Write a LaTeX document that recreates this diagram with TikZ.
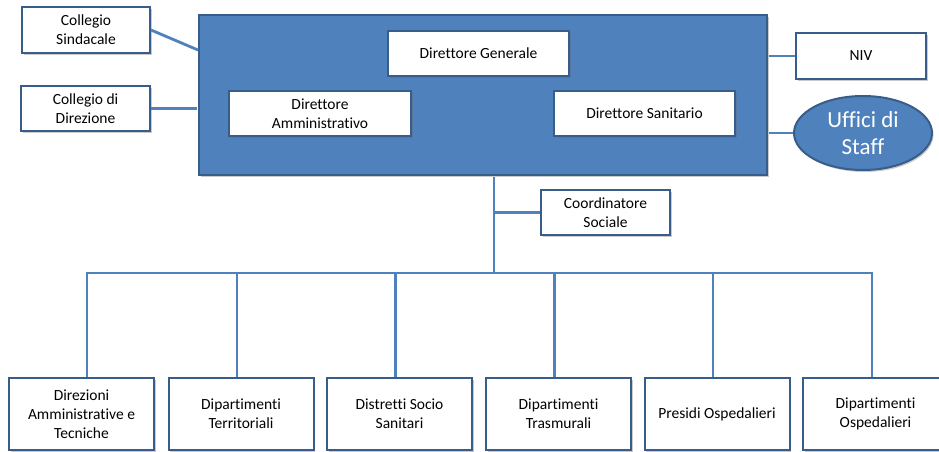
\documentclass[tikz,border=0pt]{standalone}
\usepackage{fontspec}
\setmainfont{Carlito}[Ligatures=NoCommon]
\usetikzlibrary{shadows,shapes.geometric,calc}
\definecolor{ofblue}{HTML}{4F81BD}
\definecolor{ofdark}{HTML}{385D8A}
\begin{document}
\begin{tikzpicture}[x=1pt,y=-1pt,
  shad/.style={drop shadow={shadow xshift=1.5pt,shadow yshift=-2pt,opacity=0.35,fill=black!60}},
  wbox/.style={draw=ofdark,line width=2pt,fill=white,align=center,inner sep=0pt,
    font=\fontsize{15.5}{19}\selectfont,shad},
  conn/.style={draw=ofblue,line width=2.8pt,line join=miter}]
\useasboundingbox (0,0) rectangle (939,452);
% main box
\node[draw=ofdark,line width=2pt,fill=ofblue,minimum width=568pt,minimum height=160pt,inner sep=0pt,shad] (big) at (483,95) {};
\node[wbox,minimum width=181pt,minimum height=45pt] (dg) at (478.5,53.5) {Direttore Generale};
\node[wbox,minimum width=182pt,minimum height=45pt] (da) at (320,113.5) {Direttore\\Amministrativo};
\node[wbox,minimum width=181pt,minimum height=45pt] (ds) at (644.5,113.5) {Direttore Sanitario};
% side boxes
\node[wbox,minimum width=128pt,minimum height=46pt] (cs) at (86,30) {Collegio\\Sindacale};
\node[wbox,minimum width=129pt,minimum height=45pt] (cd) at (85.5,108.5) {Collegio di\\Direzione};
\node[wbox,minimum width=130pt,minimum height=46pt] (niv) at (861,56) {NIV};
\node[ellipse,draw=ofdark,line width=2pt,fill=ofblue,minimum width=138pt,minimum height=74pt,inner sep=0pt,
  align=center,text=white,font=\fontsize{23}{27}\selectfont,shad] (st) at (863,133) {Uffici di\\Staff};
\node[wbox,minimum width=129pt,minimum height=45pt] (cso) at (605.5,212.5) {Coordinatore\\Sociale};
% bottom boxes
\node[wbox,minimum width=145pt,minimum height=72pt] (b1) at (81.5,414) {Direzioni\\Amministrative e\\Tecniche};
\node[wbox,minimum width=145pt,minimum height=72pt] (b2) at (241,414) {Dipartimenti\\Territoriali};
\node[wbox,minimum width=145pt,minimum height=72pt] (b3) at (399.5,414) {Distretti Socio\\Sanitari};
\node[wbox,minimum width=145pt,minimum height=72pt] (b4) at (558.5,414) {Dipartimenti\\Trasmurali};
\node[wbox,minimum width=145pt,minimum height=72pt] (b5) at (717,414) {Presidi Ospedalieri};
\node[wbox,minimum width=145pt,minimum height=72pt] (b6) at (875.5,414) {Dipartimenti\\Ospedalieri};
% connectors
\coordinate (trunk) at (494,273);
\coordinate (csin) at (199,50);
\draw[conn] (cs.east) -- ([xshift=-1pt]csin);
\draw[conn] (cd.east) -- ([xshift=-1pt]cd.east -| big.west);
\draw[conn] ([xshift=1pt]big.east |- niv.west) -- (niv.west);
\draw[conn] ([xshift=1pt]big.east |- st.west) -- (st.west);
\draw[conn] ([yshift=-1pt]trunk |- big.south) -- (trunk);
\draw[conn] (trunk |- cso.west) -- (cso.west);
\draw[conn] ([xshift=5.5pt]b1.north) -- ([xshift=5.5pt]b1.north |- trunk) -- ([xshift=-3.5pt]b6.north |- trunk) -- ([xshift=-3.5pt]b6.north);
\foreach \b in {b2,b3,b4,b5}{
  \draw[conn] ([xshift=-4pt]\b.north) -- ([xshift=-4pt]\b.north |- trunk);
}
\end{tikzpicture}
\end{document}
